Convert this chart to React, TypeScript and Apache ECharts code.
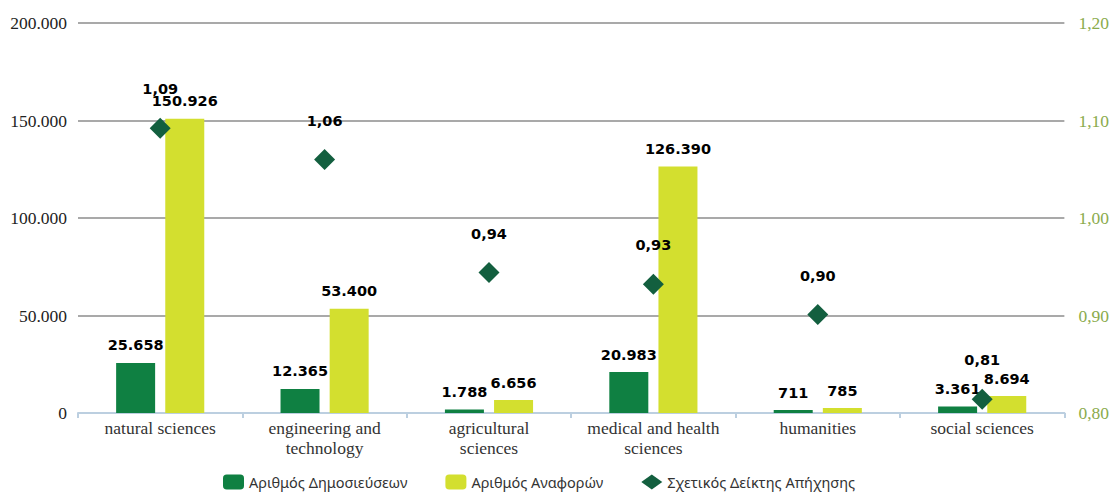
import React, { useEffect, useRef } from "react";
import * as echarts from "echarts";

const categories = [
  "natural sciences",
  "engineering and\ntechnology",
  "agricultural\nsciences",
  "medical and health\nsciences",
  "humanities",
  "social sciences",
];
const publications = [25658, 12365, 1788, 20983, 711, 3361];
const citations = [150926, 53400, 6656, 126390, 785, 8694];
const citationIndex = [1.092, 1.06, 0.944, 0.932, 0.901, 0.814];

const seriesNames = ["Αριθμός Δημοσιεύσεων", "Αριθμός Αναφορών", "Σχετικός Δείκτης Απήχησης"];

const fmtThousands = (v: number) => String(Math.round(v)).replace(/\B(?=(\d{3})+(?!\d))/g, ".");
const fmtDec = (v: number) => v.toFixed(2).replace(".", ",");

export default function App() {
  const ref = useRef<HTMLDivElement>(null);
  useEffect(() => {
    if (!ref.current) return;
    const chart = echarts.init(ref.current, undefined, { renderer: "svg" });
    const labelStyle = {
      show: true,
      position: "top" as const,
      distance: 10,
      color: "#000",
      fontWeight: "bold" as const,
      fontSize: 14.5,
      fontFamily: "DejaVu Sans",
    };
    chart.setOption({
      animation: false,
      grid: { left: 78, right: 44, top: 23, bottom: 80 },
      legend: {
        left: 218,
        top: 468,
        padding: 5,
        itemGap: 38,
        itemWidth: 21,
        itemHeight: 15,
        textStyle: { fontFamily: "Noto Sans", fontSize: 14.5, color: "#333", lineHeight: 18 },
        data: [
          { name: seriesNames[0], icon: "roundRect" },
          { name: seriesNames[1], icon: "roundRect" },
          { name: seriesNames[2], icon: "diamond", itemStyle: { opacity: 1 } },
        ],
      },
      xAxis: {
        type: "category",
        data: categories,
        axisLine: { lineStyle: { color: "#bccfe0", width: 2 } },
        axisTick: { show: true, length: 5, lineStyle: { color: "#bccfe0", width: 2 } },
        axisLabel: {
          interval: 0,
          fontFamily: "Liberation Serif",
          fontSize: 17.5,
          color: "#333",
          lineHeight: 20,
          margin: 5,
        },
      },
      yAxis: [
        {
          type: "value",
          min: 0,
          max: 200000,
          interval: 50000,
          axisLine: { show: false },
          axisTick: { show: false },
          splitLine: { lineStyle: { color: "#a9a9a9", width: 2 } },
          axisLabel: {
            fontFamily: "Liberation Serif",
            fontSize: 17.5,
            color: "#222",
            margin: 11,
            formatter: (v: number) => fmtThousands(v),
          },
        },
        {
          type: "value",
          min: 0.8,
          max: 1.2,
          interval: 0.1,
          axisLine: { show: false },
          axisTick: { show: false },
          splitLine: { show: false },
          axisLabel: {
            fontFamily: "Liberation Serif",
            fontSize: 17.5,
            color: "#8aab4c",
            margin: 14,
            formatter: (v: number) => fmtDec(v),
          },
        },
      ],
      series: [
        {
          name: seriesNames[0],
          type: "bar",
          data: publications,
          barWidth: 39,
          barGap: "26%",
          barMinHeight: 3,
          itemStyle: { color: "#0f8042" },
          label: { ...labelStyle, formatter: (p: any) => fmtThousands(p.value) },
        },
        {
          name: seriesNames[1],
          type: "bar",
          data: citations,
          barWidth: 39,
          barGap: "26%",
          barMinHeight: 5,
          itemStyle: { color: "#d3df2f" },
          label: { ...labelStyle, formatter: (p: any) => fmtThousands(p.value) },
        },
        {
          name: seriesNames[2],
          type: "scatter",
          yAxisIndex: 1,
          data: citationIndex,
          symbol: "diamond",
          symbolSize: 21,
          itemStyle: { color: "#135f3f", opacity: 1 },
          label: { ...labelStyle, distance: 21, formatter: (p: any) => fmtDec(p.value) },
          z: 5,
        },
      ],
    });
    return () => chart.dispose();
  }, []);
  return (
    <div
      ref={ref}
      style={{ position: "absolute", left: 0, top: 0, width: 1112, height: 493 }}
    />
  );
}
